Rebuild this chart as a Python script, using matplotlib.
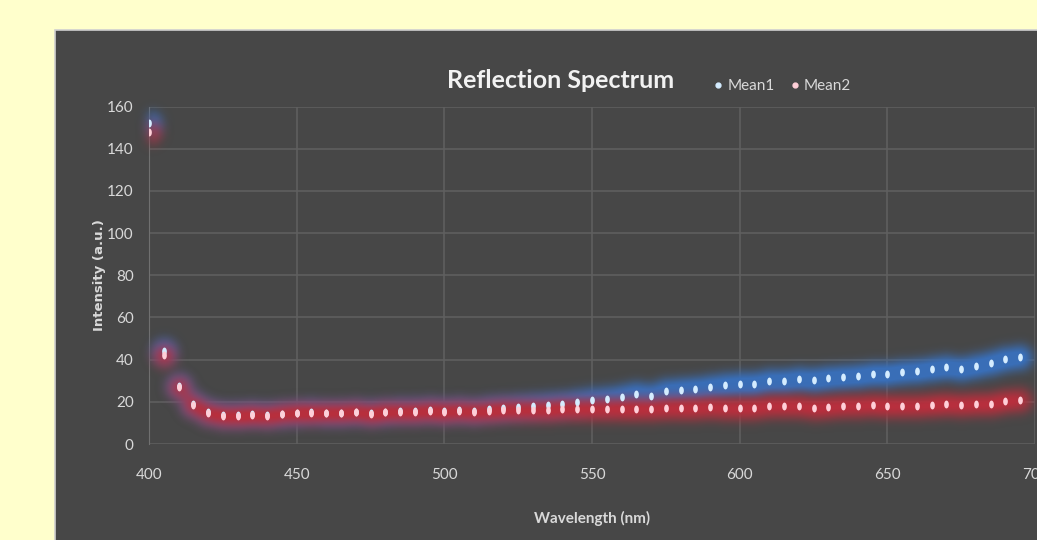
import numpy as np
import matplotlib
matplotlib.use('Agg')
from matplotlib import pyplot as plt
from matplotlib.patches import Rectangle
from matplotlib.path import Path
from matplotlib.lines import Line2D

# wavelength samples every 5 nm
wavelength = list(range(400, 700, 5))

mean1 = [152, 44, 27.5, 19, 15, 13.6, 13.6, 14, 13.6, 14.4,
         14.7, 15, 14.7, 14.8, 15.3, 14.5, 15.3, 15.7, 15.8, 16,
         15.8, 16.3, 15.8, 16.5, 17.0, 17.5, 18.0, 18.5, 19.0, 20.0,
         20.8, 21.2, 22.5, 23.6, 22.8, 24.9, 25.5, 26.0, 26.8, 27.8,
         28.3, 28.3, 29.9, 29.9, 30.7, 30.4, 31.1, 31.8, 32.3, 33.4,
         33.4, 34.1, 34.6, 35.4, 36.5, 35.4, 37.0, 38.2, 40.1, 41.4]

mean2 = [148, 42, 27, 18.5, 14.8, 13.4, 13.4, 13.8, 13.4, 14.2,
         14.5, 14.8, 14.5, 14.5, 15.0, 14.2, 15.0, 15.4, 15.4, 15.5,
         15.3, 15.7, 15.0, 15.7, 16.0, 16.2, 16.3, 16.2, 16.5, 16.5,
         16.5, 16.5, 16.5, 16.5, 16.5, 17.0, 17.0, 17.0, 17.6, 17.3,
         17.3, 17.3, 18.1, 18.1, 18.1, 17.3, 17.6, 18.1, 18.1, 18.4,
         17.8, 17.8, 17.8, 18.4, 18.9, 18.4, 18.9, 18.9, 20.4, 20.9]

x_ticks = [400, 450, 500, 550, 600, 650, 700]
y_ticks = [0, 20, 40, 60, 80, 100, 120, 140, 160]

FONT = ['Lato', 'DejaVu Sans']
TXT = '#d9d9d9'
PANEL = '#474747'
GRID = '#606060'


def _blur(a, r, k, axis):
    out = np.zeros_like(a)
    for i, w in zip(range(-r, r + 1), k):
        out += w * np.roll(a, i, axis=axis)
    return out


def glow_filter(sigma, boost=1.0):
    # gaussian blur (premultiplied) used as an agg_filter for the soft glow
    def _f(img, dpi):
        r = int(3 * sigma)
        h, w = img.shape[:2]
        pad = np.zeros((h + 2 * r, w + 2 * r, 4), dtype=float)
        pad[r:-r, r:-r] = img
        a = pad[..., 3:4]
        pm = np.concatenate([pad[..., :3] * a, a], axis=2)
        k = np.exp(-np.arange(-r, r + 1) ** 2 / (2.0 * sigma ** 2))
        k /= k.sum()
        pm = _blur(_blur(pm, r, k, 0), r, k, 1)
        alpha = pm[..., 3:4]
        rgb = np.where(alpha > 1e-6, pm[..., :3] / np.maximum(alpha, 1e-6), 0)
        out = np.concatenate([rgb, np.clip(alpha * boost, 0, 1)], axis=2)
        return out.astype(img.dtype), -r, -r
    return _f


# tall narrow ellipse used as the point marker
t = np.linspace(0, 2 * np.pi, 40)
ellipse = Path(np.column_stack([0.6 * np.cos(t), np.sin(t)]), closed=True)

fig = plt.figure(figsize=(10.37, 5.40), dpi=100)
fig.patch.set_facecolor('#ffffcc')

# dark chart panel behind the axes
panel = Rectangle((55 / 1037, -0.1), 1.0, 0.1 + 510 / 540,
                  transform=fig.transFigure, facecolor=PANEL,
                  edgecolor='#cfcfcf', linewidth=1.2, zorder=-5)
fig.patches.append(panel)

ax = fig.add_axes([149 / 1037, 96 / 540, 886 / 1037, 337.5 / 540])
ax.set_zorder(2)
ax.set_facecolor('none')
ax.set_xlim(400, 700)
ax.set_ylim(0, 160)
ax.set_xticks(x_ticks)
ax.set_yticks(y_ticks)
ax.grid(True, color=GRID, linewidth=1.1)
ax.set_axisbelow(True)
for s in ['top', 'right', 'bottom']:
    ax.spines[s].set_visible(False)
ax.spines['left'].set_color('#707070')
ax.tick_params(length=0, colors=TXT, labelsize=11)
ax.tick_params(axis='x', pad=17)
ax.tick_params(axis='y', pad=11)
for lb in ax.get_xticklabels() + ax.get_yticklabels():
    lb.set_family(FONT)

# glow layers first, then the bright cores on top
g1 = ax.scatter(wavelength, mean1, s=280, marker='o', color='#3a6fb8', alpha=0.85,
                linewidths=0, zorder=3)
g1.set_agg_filter(glow_filter(4, 1.2))
g2 = ax.scatter(wavelength, mean2, s=280, marker='o', color='#b8303e', alpha=0.65,
                linewidths=0, zorder=3)
g2.set_agg_filter(glow_filter(4, 1.2))
ax.scatter(wavelength, mean1, s=32, marker=ellipse, color='#d4ecff', linewidths=0, zorder=4)
ax.scatter(wavelength, mean2, s=32, marker=ellipse, color='#ffcfd8', linewidths=0, zorder=5)

ax.set_xlabel('Wavelength (nm)', color=TXT, fontsize=11, fontweight='bold',
              family=FONT, labelpad=21)
ax.set_ylabel('Intensity (a.u.)', color=TXT, fontsize=9.5, fontweight='bold', labelpad=1)

fig.text(561 / 1037, 1 - 80 / 540, 'Reflection Spectrum', color='#f2f2f2',
         fontsize=18, fontweight='bold', family=FONT, ha='center', va='center',
         zorder=3)

handles = [Line2D([], [], linestyle='none', marker='o', markersize=3.5,
                  color='#d4ecff', label='Mean1'),
           Line2D([], [], linestyle='none', marker='o', markersize=3.5,
                  color='#ffcfd8', label='Mean2')]
leg = fig.legend(handles=handles, loc='center left', ncol=2, frameon=False,
                 bbox_to_anchor=(706 / 1037, 1 - 86 / 540), handlelength=0.6,
                 handletextpad=0.3, columnspacing=1.0, borderpad=0,
                 prop={'family': FONT, 'size': 11})
leg.set_zorder(3)
for tx in leg.get_texts():
    tx.set_color(TXT)

plt.savefig('out.png', dpi=100, facecolor=fig.get_facecolor())
